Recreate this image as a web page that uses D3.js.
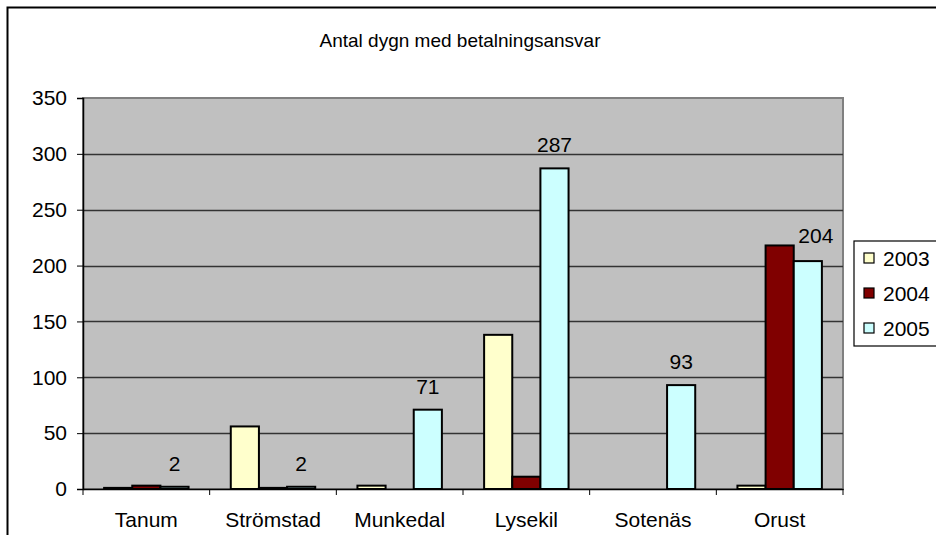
<!DOCTYPE html>
<html>
<head>
<meta charset="utf-8">
<script src="https://cdn.jsdelivr.net/npm/d3@7"></script>
<style>
	body { margin: 0; background: #fff; }
	svg text { font-family: "Liberation Sans", Arial, sans-serif; fill: #000; }
</style>
</head>
<body>
<svg id="chart" width="936" height="535"></svg>
<script>
const title = 'Antal dygn med betalningsansvar';
const kommuner = ['Tanum', 'Strömstad', 'Munkedal', 'Lysekil', 'Sotenäs', 'Orust'];
const years = ['2003', '2004', '2005'];
const v2003 = [1, 56, 3, 138, 0, 3];
const v2004 = [3, 1, 0, 11, 0, 218];
const v2005 = [2, 2, 71, 287, 93, 204];
const yTicks = [0, 50, 100, 150, 200, 250, 300, 350];
const colors = ['#FFFFCC', '#800000', '#CCFFFF'];

const series = [v2003, v2004, v2005];
const svg = d3.select('#chart');
const plot = { left: 83, right: 843, top: 98, bottom: 489 };
const fs = '21px';

// Outer chart frame (runs off the right and bottom edges)
svg.append('rect').attr('x', 7.5).attr('y', 7.5).attr('width', 940).attr('height', 540)
	.attr('fill', '#fff').attr('stroke', '#000').attr('stroke-width', 2);

svg.append('text').attr('x', 460).attr('y', 47).attr('text-anchor', 'middle')
	.style('font-size', '19px').text(title);

const x = d3.scaleBand().domain(kommuner).range([plot.left, plot.right]);
const x1 = d3.scaleBand().domain(years).range([0, x.bandwidth()]).paddingInner(0).paddingOuter(0.75);
const y = d3.scaleLinear().domain([0, 350]).range([plot.bottom, plot.top]);

// Plot area
svg.append('rect').attr('x', plot.left).attr('y', plot.top)
	.attr('width', plot.right - plot.left).attr('height', plot.bottom - plot.top)
	.attr('fill', '#C0C0C0').attr('stroke', '#808080').attr('stroke-width', 2);

// Gridlines
svg.append('g').selectAll('line').data(yTicks.filter(d => d > 0 && d < 350)).enter().append('line')
	.attr('x1', plot.left).attr('x2', plot.right)
	.attr('y1', d => Math.round(y(d)) + 0.5).attr('y2', d => Math.round(y(d)) + 0.5)
	.attr('stroke', '#333').attr('stroke-width', 1.3);

// Bars
const bars = [];
kommuner.forEach((k, i) => {
	years.forEach((yr, j) => bars.push({ k, yr, v: series[j][i], c: colors[j] }));
});
svg.append('g').selectAll('rect').data(bars).enter().append('rect')
	.attr('x', d => x(d.k) + x1(d.yr))
	.attr('width', x1.bandwidth())
	.attr('y', d => y(d.v))
	.attr('height', d => y(0) - y(d.v))
	.attr('fill', d => d.c).attr('stroke', '#000').attr('stroke-width', 2);

// Data labels for 2005 (the Orust label sits nudged up and right, as in Excel)
const nudge = k => (k === 'Orust' ? [8, -2] : [0, 0]);
svg.append('g').selectAll('text').data(kommuner).enter().append('text')
	.attr('x', (d, i) => x(d) + x1('2005') + x1.bandwidth() / 2 + nudge(d)[0])
	.attr('y', (d, i) => y(v2005[i]) - 16 + nudge(d)[1])
	.attr('text-anchor', 'middle').style('font-size', fs)
	.text((d, i) => v2005[i]);

// Axes
const yAxis = d3.axisLeft(y).tickValues(yTicks).tickSize(6).tickPadding(10);
svg.append('g').attr('transform', `translate(${plot.left},0)`).call(yAxis)
	.call(g => g.select('.domain').attr('stroke', '#000').attr('stroke-width', 1.5))
	.call(g => g.selectAll('text').style('font-size', fs).attr('font-family', null));

const xAxis = d3.axisBottom(x).tickSize(0).tickPadding(23);
const gx = svg.append('g').attr('transform', `translate(0,${plot.bottom})`).call(xAxis);
gx.select('.domain').attr('stroke', '#000').attr('stroke-width', 1.5);
gx.selectAll('text').style('font-size', fs).attr('font-family', null);
gx.selectAll('.sep').data(d3.range(kommuner.length + 1)).enter().append('line').classed('sep', true)
	.attr('x1', i => plot.left + i * x.step()).attr('x2', i => plot.left + i * x.step())
	.attr('y1', 0).attr('y2', 6).attr('stroke', '#000');

// Legend
const legend = svg.append('g').attr('transform', 'translate(854,241)');
legend.append('rect').attr('width', 90).attr('height', 105)
	.attr('fill', '#fff').attr('stroke', '#000').attr('stroke-width', 1.2);
years.forEach((yr, j) => {
	const ly = 17 + j * 35;
	legend.append('rect').attr('x', 10).attr('y', ly - 5).attr('width', 10).attr('height', 10)
		.attr('fill', colors[j]).attr('stroke', '#000').attr('stroke-width', 1.2);
	legend.append('text').attr('x', 29).attr('y', ly + 7.5).style('font-size', fs).text(yr);
});
</script>
</body>
</html>
